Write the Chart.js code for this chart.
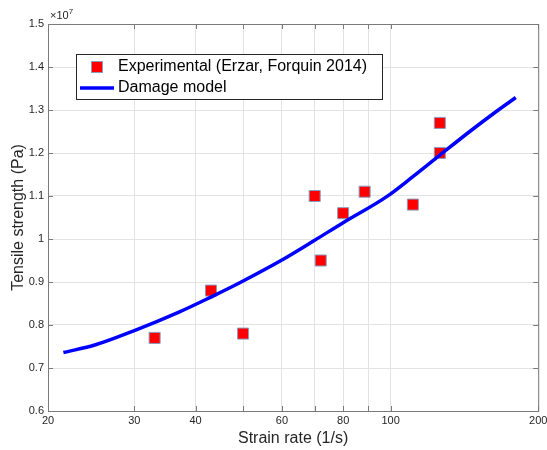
<!DOCTYPE html>
<html>
<head>
<meta charset="utf-8">
<script src="https://cdn.jsdelivr.net/npm/chart.js@4"></script>
<style>
  body { margin: 0; background: #fff; }
  #wrap { width: 547px; height: 450px; }
</style>
</head>
<body>
<div id="wrap"><canvas id="myChart" width="547" height="450"></canvas></div>
<script>
// experimental points (strain rate 1/s, strength in 1e7 Pa)
const expRate = [33, 43, 50, 70, 72, 80, 88.5, 111, 126, 126];
const expStrength = [0.77, 0.88, 0.78, 1.10, 0.95, 1.06, 1.11, 1.08, 1.27, 1.20];

// damage model curve
const modelRate = [21.5, 25, 30, 37, 43, 49, 60, 70, 80, 98, 111, 126, 145, 164, 180];
const modelStrength = [0.736, 0.754, 0.787, 0.830, 0.865, 0.897, 0.951, 0.997, 1.038, 1.098, 1.145, 1.195, 1.25, 1.296, 1.329];

const xGridVals = [20, 30, 40, 50, 60, 70, 80, 90, 100, 200];
const xLabelVals = [20, 30, 40, 60, 80, 100, 200];
const yTickVals = [0.6, 0.7, 0.8, 0.9, 1.0, 1.1, 1.2, 1.3, 1.4, 1.5];

const legendLabels = ["Experimental (Erzar, Forquin 2014)", "Damage model"];

const fontFam = "'Liberation Sans', Arial, Helvetica, sans-serif";
const textColor = "#262626";
const axisColor = "#7a7a7a";

const framePlugin = {
  id: "frame",
  afterDraw(chart) {
    const ctx = chart.ctx;
    const a = chart.chartArea;
    const xs = chart.scales.x;
    const ys = chart.scales.y;
    ctx.save();
    // box
    ctx.strokeStyle = axisColor;
    ctx.lineWidth = 1;
    ctx.strokeRect(a.left + 0.5, a.top + 0.5, a.right - a.left, a.bottom - a.top);
    // inward ticks
    ctx.beginPath();
    xGridVals.forEach((v) => {
      const px = Math.round(xs.getPixelForValue(v)) + 0.5;
      ctx.moveTo(px, a.bottom);
      ctx.lineTo(px, a.bottom - 5);
      ctx.moveTo(px, a.top);
      ctx.lineTo(px, a.top + 5);
    });
    yTickVals.forEach((v) => {
      const py = Math.round(ys.getPixelForValue(v)) + 0.5;
      ctx.moveTo(a.left, py);
      ctx.lineTo(a.left + 5, py);
      ctx.moveTo(a.right, py);
      ctx.lineTo(a.right - 5, py);
    });
    ctx.stroke();

    // exponent label
    ctx.fillStyle = textColor;
    ctx.textBaseline = "alphabetic";
    ctx.textAlign = "left";
    ctx.font = "11px " + fontFam;
    ctx.fillText("\u00d710", a.left + 2, a.top - 5);
    const w = ctx.measureText("\u00d710").width;
    ctx.font = "8px " + fontFam;
    ctx.fillText("7", a.left + 2 + w, a.top - 10);

    // legend
    const bx = 76, by = 54, bw = 306, bh = 45;
    ctx.fillStyle = "#ffffff";
    ctx.fillRect(bx, by, bw, bh);
    ctx.strokeStyle = "#262626";
    ctx.lineWidth = 1;
    ctx.strokeRect(bx + 0.5, by + 0.5, bw, bh);

    ctx.fillStyle = "#ff0000";
    ctx.fillRect(92, 62, 10, 10);
    ctx.strokeStyle = "#8a9cc0";
    ctx.strokeRect(91.5, 61.5, 11, 11);

    ctx.strokeStyle = "#0000ff";
    ctx.lineWidth = 3.5;
    ctx.beginPath();
    ctx.moveTo(80, 88);
    ctx.lineTo(114, 88);
    ctx.stroke();

    ctx.fillStyle = "#000000";
    ctx.font = "16px " + fontFam;
    ctx.textBaseline = "middle";
    ctx.fillText(legendLabels[0], 118, 67);
    ctx.fillText(legendLabels[1], 118, 88);
    ctx.restore();
  },
};

const data = {
  datasets: [
    {
      label: legendLabels[1],
      data: modelRate.map((r, i) => ({ x: r, y: modelStrength[i] })),
      showLine: true,
      borderColor: "#0000ff",
      borderWidth: 3.5,
      pointRadius: 0,
      cubicInterpolationMode: "monotone",
      order: 0,
    },
    {
      label: legendLabels[0],
      data: expRate.map((r, i) => ({ x: r, y: expStrength[i] })),
      pointStyle: "rect",
      pointRadius: 7.8,
      backgroundColor: "#ff0000",
      borderColor: "#8a9cc0",
      borderWidth: 1,
      order: 1,
    },
  ],
};

const config = {
  type: "scatter",
  data: data,
  plugins: [framePlugin],
  options: {
    responsive: false,
    animation: false,
    layout: { padding: { top: 24, right: 8, left: 0, bottom: 0 } },
    plugins: {
      legend: { display: false },
      tooltip: { enabled: false },
    },
    scales: {
      x: {
        type: "logarithmic",
        min: 20,
        max: 200,
        afterBuildTicks: (scale) => {
          scale.ticks = xGridVals.map((v) => ({ value: v }));
        },
        afterFit: (scale) => {
          scale.height = 39;
          scale.paddingLeft = 0;
          scale.paddingRight = 0;
        },
        ticks: {
          autoSkip: false,
          maxRotation: 0,
          padding: 3,
          color: textColor,
          font: { family: fontFam, size: 11 },
          callback: (v) => (xLabelVals.includes(v) ? String(v) : ""),
        },
        grid: { color: "#e3e3e3", drawTicks: false },
        border: { display: false },
        title: {
          display: true,
          text: "Strain rate (1/s)",
          color: textColor,
          font: { family: fontFam, size: 16 },
          padding: { top: 2, bottom: 2 },
        },
      },
      y: {
        min: 0.6,
        max: 1.5,
        afterBuildTicks: (scale) => {
          scale.ticks = yTickVals.map((v) => ({ value: v }));
        },
        afterFit: (scale) => {
          scale.width = 48;
          scale.paddingTop = 0;
          scale.paddingBottom = 0;
        },
        ticks: {
          padding: 4,
          color: textColor,
          font: { family: fontFam, size: 11 },
          callback: (v) => String(Number(v.toFixed(1))),
        },
        grid: { color: "#e3e3e3", drawTicks: false },
        border: { display: false },
        title: {
          display: true,
          text: "Tensile strength (Pa)",
          color: textColor,
          font: { family: fontFam, size: 16 },
          padding: { top: 9, bottom: 0 },
        },
      },
    },
  },
};

new Chart(document.getElementById("myChart"), config);
</script>
</body>
</html>
